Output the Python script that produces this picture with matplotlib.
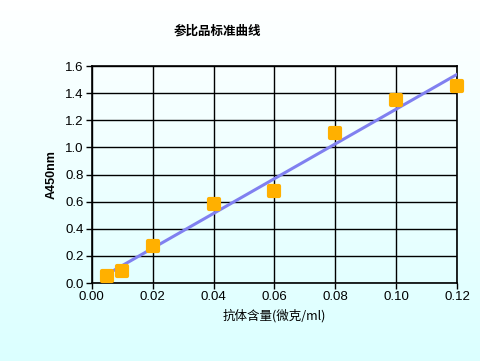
import numpy as np
import matplotlib
matplotlib.use("Agg")
import matplotlib.pyplot as plt
from matplotlib.markers import MarkerStyle

conc = [0.005, 0.01, 0.02, 0.04, 0.06, 0.08, 0.10, 0.12]
absorb = [0.05, 0.09, 0.27, 0.58, 0.68, 1.11, 1.35, 1.45]
xticks = [0.00, 0.02, 0.04, 0.06, 0.08, 0.10, 0.12]
yticks = [0.0, 0.2, 0.4, 0.6, 0.8, 1.0, 1.2, 1.4, 1.6]

plt.rcParams['font.family'] = ['Liberation Sans', 'Noto Sans CJK SC', 'DejaVu Sans']

fig = plt.figure(figsize=(4.81, 3.61), dpi=100)
bg = fig.add_axes([0, 0, 1, 1], zorder=-10)
grad = np.linspace(0, 1, 256).reshape(-1, 1)
top = np.array([1.0, 1.0, 1.0])
bot = np.array([0.86, 1.0, 1.0])
img = top[None, None, :] * (1 - grad[:, :, None]) + bot[None, None, :] * grad[:, :, None]
bg.imshow(img, aspect='auto', extent=[0, 1, 0, 1])
bg.axis('off')

ax = fig.add_axes([0.191, 0.216, 0.759, 0.601])
ax.patch.set_alpha(0)
slope, inter = np.polyfit(conc, absorb, 1)
xs = np.array([conc[0], 0.12])
ax.plot(xs, slope * xs + inter, color='#8080f0', lw=2.2, zorder=3)
mk = MarkerStyle('s', joinstyle='round')
ax.plot(conc, absorb, linestyle='none', marker=mk, color='#ffb000', ms=7, mew=3,
        mec='#ffb000', zorder=4, clip_on=False)
ax.set_xlim(0, 0.12)
ax.set_ylim(0, 1.6)
ax.set_xticks(xticks)
ax.set_xticklabels([f"{v:.2f}" for v in xticks], fontsize=9.5)
ax.set_yticks(yticks)
ax.set_yticklabels([f"{v:.1f}" for v in yticks], fontsize=9.5)
ax.grid(True, color='black', lw=1)
for s in ax.spines.values():
    s.set_linewidth(1.2)
ax.tick_params(direction='out', length=4, width=1, pad=2)
ax.set_xlabel('抗体含量(微克/ml)', fontsize=9, labelpad=4, family=['Noto Sans CJK SC', 'DejaVu Sans'])
ax.set_ylabel('A450nm', fontsize=9, fontweight='bold', labelpad=5)
fig.text(0.453, 0.915, '参比品标准曲线', ha='center', va='center', fontsize=9, fontweight='bold',
         family=['Noto Sans CJK SC', 'DejaVu Sans'])
fig.savefig('out.png', dpi=100)
